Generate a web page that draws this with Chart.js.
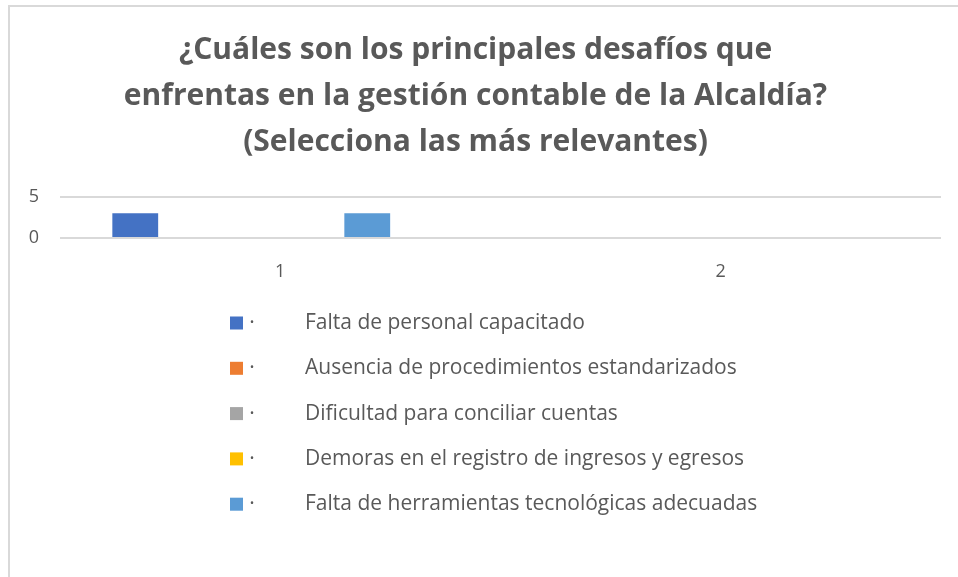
<!DOCTYPE html>
<html>
<head>
<meta charset="utf-8">
<script src="https://cdn.jsdelivr.net/npm/chart.js@4"></script>
<style>
html,body{margin:0;padding:0;background:#fff;}
#wrap{position:absolute;left:0;top:0;width:958px;height:577px;}
</style>
</head>
<body>
<div id="wrap"><canvas id="c" width="958" height="577"></canvas></div>
<script>
const titleLines = ["¿Cuáles son los principales desafíos que", "enfrentas en la gestión contable de la Alcaldía?", "(Selecciona las más relevantes)"];
const categories = ["1", "2"];
const seriesNames = [
  "Falta de personal capacitado",
  "Ausencia de procedimientos estandarizados",
  "Dificultad para conciliar cuentas",
  "Demoras en el registro de ingresos y egresos",
  "Falta de herramientas tecnológicas adecuadas",
  ""
];
const seriesColors = ["#4472C4", "#ED7D31", "#A5A5A5", "#FFC000", "#5B9BD5", "#70AD47"];
const serie1 = [3, 0];
const serie2 = [0, 0];
const serie3 = [0, 0];
const serie4 = [0, 0];
const serie5 = [3, 0];
const serie6 = [null, null];
const seriesValues = [serie1, serie2, serie3, serie4, serie5, serie6];
const yTicks = [0, 5];

const FONT = "'Open Sans', Lato, sans-serif";
const TXT = "#595959";

const borderPlugin = {
  id: 'border',
  beforeDraw(chart) {
    const ctx = chart.ctx;
    ctx.save();
    ctx.fillStyle = "#d9d9d9";
    ctx.fillRect(8, 5, 2, 577);
    ctx.fillRect(8, 5, 950, 2);
    ctx.restore();
  }
};

const legendPlugin = {
  id: 'vlegend',
  afterDraw(chart) {
    const ctx = chart.ctx;
    const base = chart.chartArea.bottom + 85;
    ctx.save();
    ctx.font = "21px " + FONT;
    ctx.textBaseline = "middle";
    chart.data.datasets.forEach((ds, i) => {
      if (!ds.label) return;
      const y = base + i * 45.3;
      ctx.fillStyle = ds.backgroundColor;
      ctx.fillRect(230, y - 6.5, 13, 13);
      ctx.fillStyle = TXT;
      ctx.textAlign = "center";
      ctx.fillText("·", 252, y);
      ctx.textAlign = "left";
      ctx.fillText(ds.label, 305, y);
    });
    ctx.restore();
  }
};

new Chart(document.getElementById('c'), {
  type: 'bar',
  data: {
    labels: categories,
    datasets: seriesNames.map((n, i) => ({
      label: n,
      data: seriesValues[i],
      backgroundColor: seriesColors[i],
      borderWidth: 0,
      categoryPercentage: 0.79,
      barPercentage: 0.79
    }))
  },
  options: {
    responsive: false,
    animation: false,
    devicePixelRatio: 1,
    layout: { padding: { left: 10, right: 17, top: 0, bottom: 299 } },
    plugins: {
      legend: { display: false },
      tooltip: { enabled: false },
      title: {
        display: true,
        text: titleLines,
        color: TXT,
        font: { family: FONT, size: 30, weight: 'bold', lineHeight: 1.53 },
        padding: { top: 28, bottom: 31 }
      }
    },
    scales: {
      x: {
        grid: { display: false, drawTicks: false },
        border: { display: false },
        ticks: { color: TXT, font: { family: FONT, size: 18 }, padding: 23 },
        afterFit(s) { s.height = 40; }
      },
      y: {
        min: yTicks[0], max: yTicks[yTicks.length - 1],
        afterBuildTicks(s) { s.ticks = yTicks.map(v => ({ value: v })); },
        grid: { color: "#d9d9d9", lineWidth: 2, drawTicks: false },
        border: { display: false },
        ticks: { color: TXT, font: { family: FONT, size: 18 }, padding: 21 },
        afterFit(s) { s.width = 50; }
      }
    }
  },
  plugins: [borderPlugin, legendPlugin]
});
</script>
</body>
</html>
